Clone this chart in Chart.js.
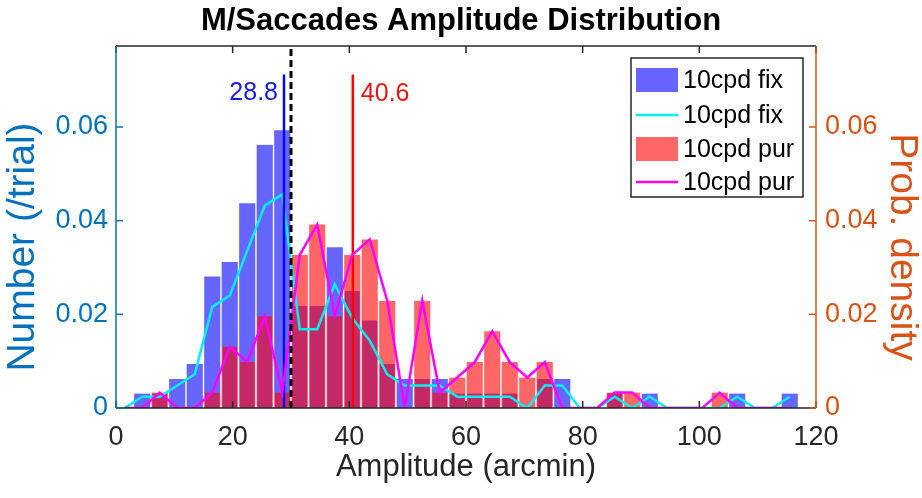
<!DOCTYPE html>
<html><head><meta charset="utf-8">
<script src="https://cdn.jsdelivr.net/npm/chart.js@4.4.1/dist/chart.umd.min.js"></script>
<style>html,body{margin:0;padding:0;background:#fff}canvas{display:block}</style>
</head><body>
<canvas id="c" width="922" height="498"></canvas>
<script>
// ---------- data ----------
const binCenters = [1.5,4.5,7.5,10.5,13.5,16.5,19.5,22.5,25.5,28.5,31.5,34.5,37.5,40.5,43.5,46.5,49.5,52.5,55.5,58.5,61.5,64.5,67.5,70.5,73.5,76.5,79.5,82.5,85.5,88.5,91.5,94.5,97.5,100.5,103.5,106.5,109.5,112.5,115.5,118.5];
// histogram, Number (/trial)
const fixCounts = [0,0.0031,0.0031,0.0062,0.0094,0.0281,0.0312,0.0437,0.0562,0.0593,0.0218,0.0218,0.0343,0.0250,0.0187,0.0094,0.0062,0.0062,0.0062,0.0031,0.0031,0.0031,0.0031,0,0.0062,0.0062,0,0,0.0031,0,0.0031,0,0,0,0,0.0031,0,0,0.0031,0];
const purCounts = [0,0,0.0033,0,0,0.0033,0.0131,0.0098,0.0196,0.0033,0.0327,0.0392,0.0196,0.0327,0.0360,0.0229,0,0.0229,0.0033,0.0065,0.0098,0.0164,0.0098,0.0065,0.0098,0,0,0,0.0033,0.0033,0,0,0,0,0.0033,0,0,0,0,0];
// probability density curves (right axis), at bin centers 1.5 ... 115.5
const fixDensity = [0,0.0024,0.0024,0.0048,0.0072,0.0216,0.0240,0.0336,0.0432,0.0456,0.0168,0.0168,0.0264,0.0192,0.0144,0.0072,0.0048,0.0048,0.0048,0.0024,0.0024,0.0024,0.0024,0,0.0048,0.0048,0,0,0.0024,0,0.0024,0,0,0,0,0.0024,0,0,0.0024];
const purDensity = [0,0,0.0033,0,0,0.0033,0.0131,0.0098,0.0196,0.0033,0.0327,0.0392,0.0196,0.0327,0.0360,0.0229,0,0.0229,0.0033,0.0065,0.0098,0.0164,0.0098,0.0065,0.0098,0,0,0,0.0033,0.0033,0,0,0,0,0.0033,0,0,0,0];
const meanFix = 28.8;
const meanPur = 40.6;
const threshold = 30;
const meanLineTop = 0.0712;
const xTicks = [0,20,40,60,80,100,120];
const yTicks = [0,0.02,0.04,0.06];
const seriesLabels = ['10cpd fix','10cpd fix','10cpd pur','10cpd pur'];
const leftTitle = 'Number (/trial)';
const rightTitle = 'Prob. density';

// ---------- styling ----------
const FONT = '"Liberation Sans", Arial, Helvetica, sans-serif';
const AX = '#262626';
const BLUEAX = 'rgb(0,114,189)';
const ORANGEAX = 'rgb(217,83,25)';
const YMAX = 0.0773;

const pts = arr => arr.map((v,i)=>({x:binCenters[i], y:v}));

const decor = {
  id: 'decor',
  afterDraw(chart){
    const {ctx, chartArea:a, scales} = chart;
    const sx = scales.x, sy = scales.y, sy2 = scales.y2;
    ctx.save();
    ctx.lineWidth = 1.5; ctx.strokeStyle = AX;
    ctx.beginPath(); ctx.moveTo(a.left, a.top); ctx.lineTo(a.right, a.top); ctx.stroke();
    ctx.beginPath(); ctx.moveTo(a.left, a.bottom); ctx.lineTo(a.right, a.bottom); ctx.stroke();
    ctx.font = '27px ' + FONT; ctx.fillStyle = AX; ctx.textAlign = 'center'; ctx.textBaseline = 'middle';
    xTicks.forEach(v=>{
      const px = sx.getPixelForValue(v);
      ctx.beginPath();
      ctx.moveTo(px, a.bottom); ctx.lineTo(px, a.bottom-7);
      ctx.moveTo(px, a.top); ctx.lineTo(px, a.top+7);
      ctx.stroke();
      ctx.fillText(String(v), px, a.bottom + 30);
    });
    ctx.strokeStyle = BLUEAX;
    ctx.beginPath(); ctx.moveTo(a.left, a.top); ctx.lineTo(a.left, a.bottom); ctx.stroke();
    yTicks.forEach(v=>{ const py = sy.getPixelForValue(v); ctx.beginPath(); ctx.moveTo(a.left,py); ctx.lineTo(a.left+7,py); ctx.stroke(); });
    ctx.strokeStyle = ORANGEAX;
    ctx.beginPath(); ctx.moveTo(a.right, a.top); ctx.lineTo(a.right, a.bottom); ctx.stroke();
    yTicks.forEach(v=>{ const py = sy2.getPixelForValue(v); ctx.beginPath(); ctx.moveTo(a.right,py); ctx.lineTo(a.right-7,py); ctx.stroke(); });

    // axis titles (rotated)
    const midY = (a.top + a.bottom)/2 + 20;
    ctx.font = '39px ' + FONT; ctx.textAlign = 'center'; ctx.textBaseline = 'middle';
    ctx.save(); ctx.translate(23, midY); ctx.rotate(-Math.PI/2);
    ctx.fillStyle = BLUEAX; ctx.fillText(leftTitle, 0, 0); ctx.restore();
    ctx.save(); ctx.translate(902, midY); ctx.rotate(Math.PI/2);
    ctx.fillStyle = ORANGEAX; ctx.fillText(rightTitle, 0, 0); ctx.restore();

    ctx.font = '25px ' + FONT;
    ctx.textBaseline = 'middle';
    ctx.fillStyle = 'rgb(25,25,225)'; ctx.textAlign = 'right';
    ctx.fillText(String(meanFix), sx.getPixelForValue(meanFix)-6, 93);
    ctx.fillStyle = 'rgb(235,20,20)'; ctx.textAlign = 'left';
    ctx.fillText(String(meanPur), sx.getPixelForValue(meanPur)+8, 94);

    const L = 631, T = 58, R = 803, B = 197;
    ctx.fillStyle = '#fff'; ctx.fillRect(L, T, R-L, B-T);
    ctx.strokeStyle = AX; ctx.lineWidth = 1.5; ctx.strokeRect(L, T, R-L, B-T);
    const ds = chart.data.datasets;
    const rows = [80, 115, 149, 182];
    ctx.font = '25px ' + FONT; ctx.textAlign = 'left'; ctx.textBaseline = 'middle';
    [0,2,1,3].forEach((di,k)=>{
      const d = ds[di], y = rows[k];
      if (d.type === 'bar') {
        ctx.fillStyle = d.backgroundColor;
        ctx.fillRect(636, y-12, 42, 24);
      } else {
        ctx.strokeStyle = d.borderColor; ctx.lineWidth = 2.5;
        ctx.beginPath(); ctx.moveTo(636, y); ctx.lineTo(678, y); ctx.stroke();
      }
      ctx.fillStyle = '#000';
      ctx.fillText(d.label, 683, y+1);
    });
    ctx.restore();
  }
};

new Chart(document.getElementById('c'), {
  type: 'bar',
  data: {
    labels: binCenters,
    datasets: [
      { type:'bar', label: seriesLabels[0], data: fixCounts, xAxisID:'xb', yAxisID:'y',
        backgroundColor:'rgba(0,0,255,0.6)', borderColor:'rgba(255,255,255,0.8)',
        borderWidth:{left:1,right:1,top:0,bottom:0}, borderSkipped:false, order:10,
        grouped:false, barPercentage:1, categoryPercentage:1 },
      { type:'bar', label: seriesLabels[2], data: purCounts, xAxisID:'xb', yAxisID:'y',
        backgroundColor:'rgba(255,0,0,0.6)', borderColor:'rgba(255,255,255,0.8)',
        borderWidth:{left:1,right:1,top:0,bottom:0}, borderSkipped:false, order:9,
        grouped:false, barPercentage:1, categoryPercentage:1 },
      { type:'line', label: seriesLabels[1], data: pts(fixDensity), xAxisID:'x', yAxisID:'y2',
        borderColor:'rgb(0,240,240)', borderWidth:2.5, pointRadius:0, tension:0, fill:false, order:8 },
      { type:'line', label: seriesLabels[3], data: pts(purDensity), xAxisID:'x', yAxisID:'y2',
        borderColor:'rgb(255,0,255)', borderWidth:2.5, pointRadius:0, tension:0, fill:false, order:5 },
      { type:'line', label:'mean fix', data:[{x:meanFix,y:0},{x:meanFix,y:meanLineTop}], xAxisID:'x', yAxisID:'y',
        borderColor:'rgb(10,10,230)', borderWidth:2.5, pointRadius:0, order:7 },
      { type:'line', label:'mean pur', data:[{x:meanPur,y:0},{x:meanPur,y:meanLineTop}], xAxisID:'x', yAxisID:'y',
        borderColor:'rgb(255,0,0)', borderWidth:2.5, pointRadius:0, order:6 },
      { type:'line', label:'threshold', data:[{x:threshold,y:0},{x:threshold,y:YMAX}], xAxisID:'x', yAxisID:'y',
        borderColor:'#000', borderWidth:3, borderDash:[7,4], pointRadius:0, order:4 }
    ]
  },
  options: {
    responsive:false, animation:false, devicePixelRatio:1,
    layout:{padding:0},
    plugins:{
      legend:{display:false}, tooltip:{enabled:false},
      title:{display:true, text:'M/Saccades Amplitude Distribution', color:'#000',
        font:{family:FONT, size:31, weight:'bold', lineHeight:1.2}, padding:{top:3, bottom:5.8}}
    },
    scales:{
      xb:{ type:'category', display:false, offset:true, grid:{offset:true} },
      x:{ type:'linear', position:'bottom', min:0, max:120, offset:false,
        afterBuildTicks: s => { s.ticks = xTicks.map(v=>({value:v})); },
        afterFit: s => { s.height = 90; },
        grid:{display:false, drawTicks:false}, border:{display:false},
        ticks:{display:false},
        title:{display:true, text:'Amplitude (arcmin)', color:AX, font:{family:FONT, size:31}, padding:{top:4,bottom:12}} },
      y:{ type:'linear', position:'left', min:0, max:YMAX,
        afterBuildTicks: s => { s.ticks = yTicks.map(v=>({value:v})); },
        afterFit: s => { s.width = 116; },
        grid:{display:false, drawTicks:false}, border:{display:false},
        ticks:{color:BLUEAX, font:{family:FONT, size:27}, padding:8},
        title:{display:false} },
      y2:{ type:'linear', position:'right', min:0, max:YMAX,
        afterBuildTicks: s => { s.ticks = yTicks.map(v=>({value:v})); },
        afterFit: s => { s.width = 106; },
        grid:{display:false, drawTicks:false}, border:{display:false},
        ticks:{color:ORANGEAX, font:{family:FONT, size:27}, padding:9},
        title:{display:false} }
    }
  },
  plugins:[decor]
});
</script>
</body></html>
